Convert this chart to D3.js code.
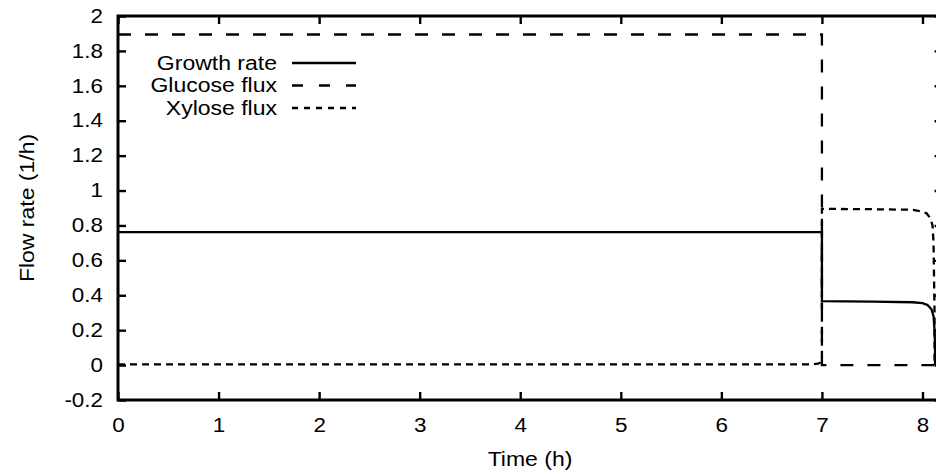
<!DOCTYPE html>
<html>
<head>
<meta charset="utf-8">
<script src="https://cdn.jsdelivr.net/npm/d3@7"></script>
<style>
  html, body { margin: 0; padding: 0; background: #fff; }
  svg { display: block; }
  text { font-family: "Liberation Sans", Arial, Helvetica, sans-serif; fill: #000; }
</style>
</head>
<body>
<div id="chart"></div>
<script>
// ---- Data ----
const xTicks = [0, 1, 2, 3, 4, 5, 6, 7, 8];
const xTickLabels = ["0", "1", "2", "3", "4", "5", "6", "7", "8"];
const yTicks = [-0.2, 0, 0.2, 0.4, 0.6, 0.8, 1, 1.2, 1.4, 1.6, 1.8, 2];
const yTickLabels = ["-0.2", "0", "0.2", "0.4", "0.6", "0.8", "1", "1.2", "1.4", "1.6", "1.8", "2"];

const seriesNames = ["Growth rate", "Glucose flux", "Xylose flux"];

const growthTime  = [0, 7.0, 7.0, 7.5, 7.9, 8.0, 8.05, 8.09, 8.11, 8.12, 8.125, 8.125];
const growthValue = [0.762, 0.762, 0.366, 0.364, 0.36, 0.355, 0.345, 0.32, 0.28, 0.2, 0.1, 0];

const glucoseTime  = [0, 7.0, 7.0, 8.125];
const glucoseValue = [1.894, 1.894, 0, 0];

const xyloseTime  = [0, 6.9, 6.96, 6.99, 7.0, 7.0, 7.5, 7.9, 7.98, 8.04, 8.08, 8.1, 8.11, 8.115, 8.12, 8.12];
const xyloseValue = [0.004, 0.004, 0.008, 0.015, 0.03, 0.895, 0.893, 0.89, 0.882, 0.87, 0.84, 0.8, 0.7, 0.5, 0.3, 0];

// ---- Layout ----
const W = 936, H = 474;
const mLeft = 118, mTop = 16, mBottom = 400;
const xMin = 0, xMax = 8.2;
const pxPerUnit = 100.56;
const mRight = mLeft + (xMax - xMin) * pxPerUnit;

const x = d3.scaleLinear().domain([xMin, xMax]).range([mLeft, mRight]);
const y = d3.scaleLinear().domain([-0.2, 2]).range([mBottom, mTop]);

const svg = d3.select("#chart").append("svg")
  .attr("width", W).attr("height", H);

const tickLen = 8;
const fontSize = 19.5;
const stretch = 1.15;   // glyphs in the reference are wider than Liberation Sans

// axes (ticks inward, mirrored)
const gx = svg.append("g").attr("transform", `translate(0,${mBottom})`)
  .call(d3.axisBottom(x).tickValues(xTicks).tickSize(-tickLen).tickPadding(18)
        .tickFormat((d, i) => xTickLabels[i]));
const gxTop = svg.append("g").attr("transform", `translate(0,${mTop})`)
  .call(d3.axisTop(x).tickValues(xTicks).tickSize(-tickLen).tickFormat(""));
const gy = svg.append("g").attr("transform", `translate(${mLeft},0)`)
  .call(d3.axisLeft(y).tickValues(yTicks).tickSize(-tickLen).tickPadding(15)
        .tickFormat((d, i) => yTickLabels[i]));
const gyRight = svg.append("g").attr("transform", `translate(${mRight},0)`)
  .call(d3.axisRight(y).tickValues(yTicks).tickSize(-tickLen).tickFormat(""));

[gx, gxTop, gy, gyRight].forEach(g => {
  g.select(".domain").remove();
  g.selectAll(".tick line").attr("stroke", "#000").attr("stroke-width", 2.4);
  g.selectAll(".tick text").each(function () {
    const t = d3.select(this);
    const tx = +t.attr("x") || 0;
    const ty = +t.attr("y") || 0;
    t.attr("x", 0).attr("y", 0)
      .attr("transform", `translate(${tx},${ty}) scale(${stretch},1)`)
      .attr("font-size", fontSize)
      .attr("font-family", "'Liberation Sans', Arial, sans-serif")
      .attr("fill", "#000");
  });
});

// border
svg.append("rect")
  .attr("x", mLeft).attr("y", mTop)
  .attr("width", mRight - mLeft).attr("height", mBottom - mTop)
  .attr("fill", "none").attr("stroke", "#000").attr("stroke-width", 3);

// axis titles
svg.append("text")
  .attr("transform", `translate(530,466) scale(${stretch},1)`)
  .attr("text-anchor", "middle").attr("font-size", fontSize + 0.5)
  .text("Time (h)");
svg.append("text")
  .attr("transform", `translate(34,${(mTop + mBottom) / 2}) rotate(-90) scale(${stretch + 0.03},1)`)
  .attr("text-anchor", "middle").attr("font-size", fontSize)
  .text("Flow rate (1/h)");

// series lines
const line = d3.line().x(d => x(d[0])).y(d => y(d[1]));
const styles = [
  { dash: null },
  { dash: "13,14" },
  { dash: "7,5" }
];
const series = [
  d3.zip(growthTime, growthValue),
  d3.zip(glucoseTime, glucoseValue),
  d3.zip(xyloseTime, xyloseValue)
];

series.forEach((s, i) => {
  svg.append("path")
    .datum(s)
    .attr("d", line)
    .attr("fill", "none")
    .attr("stroke", "#000")
    .attr("stroke-width", 2.3)
    .attr("stroke-dasharray", styles[i].dash);
});

// legend
const legRows = [63, 85.5, 108];
const legTextX = 277, legLineX1 = 292, legLineX2 = 356;
seriesNames.forEach((name, i) => {
  svg.append("text")
    .attr("transform", `translate(${legTextX},${legRows[i]}) scale(${stretch + 0.03},1)`)
    .attr("dy", "0.35em")
    .attr("text-anchor", "end").attr("font-size", fontSize)
    .text(name);
  svg.append("line")
    .attr("x1", legLineX1).attr("x2", legLineX2)
    .attr("y1", legRows[i]).attr("y2", legRows[i])
    .attr("stroke", "#000").attr("stroke-width", 2.3)
    .attr("stroke-dasharray", i === 1 ? "11,16" : (i === 2 ? "6,6" : null));
});
</script>
</body>
</html>
